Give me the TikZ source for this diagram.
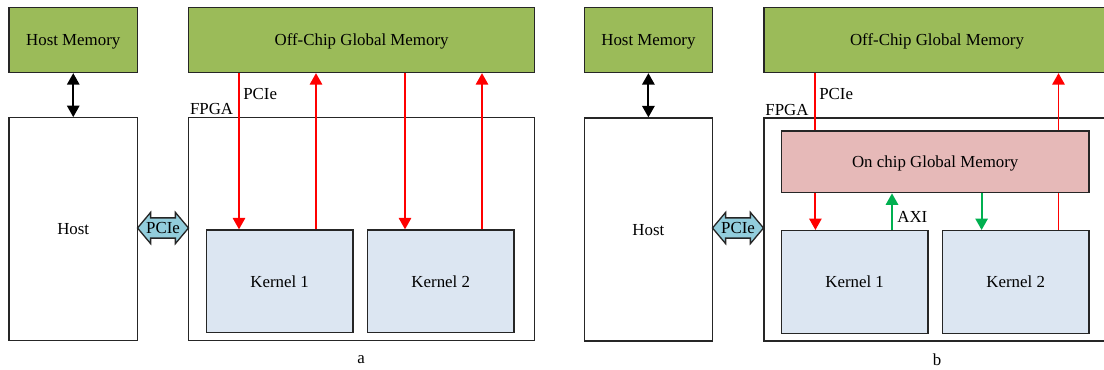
\documentclass[tikz,border=0pt]{standalone}
\usepackage{fontspec}
\setmainfont{Liberation Serif}
\usetikzlibrary{arrows.meta, shapes.arrows, positioning}

\definecolor{memgreen}{HTML}{9BBB59}
\definecolor{kernblue}{HTML}{DCE6F2}
\definecolor{onchippink}{HTML}{E6B9B8}
\definecolor{linkblue}{HTML}{92CDDC}
\definecolor{axigreen}{HTML}{00B050}
\newlength{\pix}
\setlength{\pix}{0.02cm}

\begin{document}
\begin{tikzpicture}[x=0.02cm, y=-0.02cm,
	every node/.style={font=\fontsize{9.6}{11}\selectfont},
	blk/.style={draw=black!85, line width=0.75pt, inner sep=0pt, text depth=0pt},
	memblk/.style={blk, fill=memgreen},
	kernblk/.style={blk, fill=kernblue, minimum width=146.5\pix, minimum height=102.7\pix},
	pcielink/.style={double arrow, draw=black!85, line width=0.75pt, fill=linkblue,
		minimum height=51\pix, inner sep=0pt, text height=8.6pt, text depth=2.2pt,
		double arrow head extend=5.5\pix, double arrow tip angle=100},
	redarr/.style={color=red, line width=1.1pt, -{Triangle[width=7pt,length=6.5pt]}},
	redline/.style={color=red, line width=1.1pt},
	greenarr/.style={color=axigreen, line width=1.1pt, -{Triangle[width=7pt,length=6.5pt]}},
	hostarr/.style={color=black, line width=1.1pt, {Triangle[width=7pt,length=6.5pt]}-{Triangle[width=7pt,length=6.5pt]}}]
	\path[use as bounding box, clip] (0,0) rectangle (1104,369);

	% a
	\node[memblk, minimum width=128.5\pix, minimum height=65\pix] (hmemA) at (73.25, 40) {Host Memory};
	\node[blk, minimum width=128.5\pix, minimum height=223\pix] (hostA) at (73.25, 229.25) {Host};
	\node[memblk, minimum width=346\pix, minimum height=65\pix] (offA) at (361.6, 40) {Off-Chip Global Memory};
	\node[blk, minimum width=346\pix, minimum height=223\pix] (fpgaA) at (361.6, 229.25) {};
	\node[kernblk] (k1A) at (279.65, 281.35) {Kernel 1};
	\node[kernblk] (k2A) at (440.75, 281.35) {Kernel 2};
	\node[pcielink] (linkA) at (163, 228) {\makebox[0pt]{PCIe}};
	\node[anchor=south west, inner sep=1pt] (fpgaAtxt) at (fpgaA.north west) {FPGA};
	\node[anchor=west, inner sep=0pt] (pcieAtxt) at (243, 94) {PCIe};
	\node (capA) at (361, 360) {a};

	\coordinate (ra1) at (239, 0);
	\coordinate (ra2) at (316, 0);
	\coordinate (ra3) at (405, 0);
	\coordinate (ra4) at (482, 0);

	\path[hostarr] (hmemA) edge (hostA);
	\path[redarr] (ra1 |- offA.south) edge (ra1 |- k1A.north);
	\path[redarr] (ra2 |- k1A.north) edge (ra2 |- offA.south);
	\path[redarr] (ra3 |- offA.south) edge (ra3 |- k2A.north);
	\path[redarr] (ra4 |- k2A.north) edge (ra4 |- offA.south);

	% b
	\node[memblk, minimum width=128.2\pix, minimum height=65\pix] (hmemB) at (648.4, 40) {Host Memory};
	\node[blk, minimum width=128.2\pix, minimum height=223\pix] (hostB) at (648.4, 229.5) {Host};
	\node[memblk, minimum width=346\pix, minimum height=65\pix] (offB) at (937, 40) {Off-Chip Global Memory};
	\node[blk, minimum width=346\pix, minimum height=223\pix] (fpgaB) at (937, 229.5) {};
	\node[blk, fill=onchippink, minimum width=307.6\pix, minimum height=61.7\pix] (onB) at (935.2, 161.85) {On chip Global Memory};
	\node[kernblk] (k1B) at (854.6, 282) {Kernel 1};
	\node[kernblk] (k2B) at (1015.7, 282) {Kernel 2};
	\node[pcielink] (linkB) at (738, 228) {\makebox[0pt]{PCIe}};
	\node[anchor=south west, inner sep=1pt] (fpgaBtxt) at (fpgaB.north west) {FPGA};
	\node[anchor=west, inner sep=0pt] (pcieBtxt) at (819, 94) {PCIe};
	\node[anchor=west, inner sep=0pt] (axiB) at (897, 217) {AXI};
	\node (capB) at (937, 360) {b};

	\coordinate (rb1) at (815.4, 0);
	\coordinate (rb2) at (1058.5, 0);
	\coordinate (gb1) at (892, 0);
	\coordinate (gb2) at (981.6, 0);

	\path[hostarr] (hmemB) edge (hostB);
	\path[redline] (rb1 |- offB.south) edge (rb1 |- onB.north);
	\path[redarr] (rb1 |- onB.south) edge (rb1 |- k1B.north);
	\path[redline] (rb2 |- k2B.north) edge (rb2 |- onB.south);
	\path[redarr] (rb2 |- onB.north) edge (rb2 |- offB.south);
	\path[greenarr] (gb1 |- k1B.north) edge (gb1 |- onB.south);
	\path[greenarr] (gb2 |- onB.south) edge (gb2 |- k2B.north);
\end{tikzpicture}
\end{document}
